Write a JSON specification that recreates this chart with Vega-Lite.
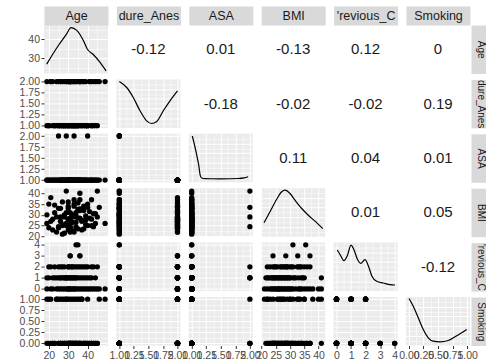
{
"$schema": "https://vega.github.io/schema/vega-lite/v6.json",
"padding": {"left": 19, "top": 9, "right": 0, "bottom": 0},
"columns": 6,
"spacing": {"row": 5.4, "column": 8.4},
"bounds": "flush",
"config": {
 "view": {"fill": "#EBEBEB", "stroke": null},
 "font": "Liberation Sans",
 "axis": {"grid": true, "gridColor": "#FFFFFF", "domain": false, "ticks": false, "labels": false, "labelFont": "Liberation Sans", "labelFontSize": 10.5, "labelColor": "#4D4D4D", "labelPadding": 1.5, "labelOverlap": false, "labelBound": false, "labelFlush": false, "tickColor": "#333333", "tickSize": 3, "tickWidth": 1, "titleFont": "Liberation Sans", "titleFontSize": 12.5, "titleFontWeight": "normal", "titleColor": "#1A1A1A", "titlePadding": 0},
 "point": {"filled": true, "size": 28, "color": "#000000", "opacity": 1, "strokeWidth": 0},
 "line": {"color": "#000000", "strokeWidth": 1.2},
 "text": {"font": "Liberation Sans", "fontSize": 15, "color": "#1A1A1A"}
},
"datasets": {
 "patients": [
  {"Age":19,"Procedure_Anes":1,"ASA":1,"BMI":26,"Previous_C":0,"Smoking":0},
  {"Age":21,"Procedure_Anes":2,"ASA":1,"BMI":38,"Previous_C":0,"Smoking":1},
  {"Age":22,"Procedure_Anes":1,"ASA":1,"BMI":23,"Previous_C":0,"Smoking":0},
  {"Age":24,"Procedure_Anes":2,"ASA":1,"BMI":29,"Previous_C":0,"Smoking":1},
  {"Age":25,"Procedure_Anes":1,"ASA":1,"BMI":33,"Previous_C":0,"Smoking":0},
  {"Age":26,"Procedure_Anes":2,"ASA":1,"BMI":27,"Previous_C":0,"Smoking":0},
  {"Age":27,"Procedure_Anes":1,"ASA":1,"BMI":21,"Previous_C":0,"Smoking":1},
  {"Age":28,"Procedure_Anes":1,"ASA":1,"BMI":30,"Previous_C":0,"Smoking":0},
  {"Age":29,"Procedure_Anes":2,"ASA":1,"BMI":25,"Previous_C":0,"Smoking":0},
  {"Age":30,"Procedure_Anes":1,"ASA":1,"BMI":36,"Previous_C":0,"Smoking":0},
  {"Age":30,"Procedure_Anes":2,"ASA":1,"BMI":28,"Previous_C":0,"Smoking":1},
  {"Age":31,"Procedure_Anes":1,"ASA":1,"BMI":24,"Previous_C":0,"Smoking":0},
  {"Age":31,"Procedure_Anes":2,"ASA":1,"BMI":31,"Previous_C":0,"Smoking":0},
  {"Age":32,"Procedure_Anes":1,"ASA":1,"BMI":26.5,"Previous_C":0,"Smoking":0},
  {"Age":33,"Procedure_Anes":2,"ASA":1,"BMI":22,"Previous_C":0,"Smoking":1},
  {"Age":33,"Procedure_Anes":1,"ASA":1,"BMI":34,"Previous_C":0,"Smoking":0},
  {"Age":34,"Procedure_Anes":1,"ASA":1,"BMI":29.5,"Previous_C":0,"Smoking":0},
  {"Age":35,"Procedure_Anes":2,"ASA":1,"BMI":23.5,"Previous_C":0,"Smoking":0},
  {"Age":36,"Procedure_Anes":1,"ASA":1,"BMI":40,"Previous_C":0,"Smoking":1},
  {"Age":37,"Procedure_Anes":2,"ASA":1,"BMI":27.5,"Previous_C":0,"Smoking":0},
  {"Age":38,"Procedure_Anes":1,"ASA":1,"BMI":32,"Previous_C":0,"Smoking":0},
  {"Age":39,"Procedure_Anes":2,"ASA":1,"BMI":25.5,"Previous_C":0,"Smoking":0},
  {"Age":40,"Procedure_Anes":1,"ASA":1,"BMI":35,"Previous_C":0,"Smoking":1},
  {"Age":41,"Procedure_Anes":2,"ASA":1,"BMI":28.5,"Previous_C":0,"Smoking":0},
  {"Age":42,"Procedure_Anes":1,"ASA":1,"BMI":37,"Previous_C":0,"Smoking":0},
  {"Age":43,"Procedure_Anes":2,"ASA":1,"BMI":24.5,"Previous_C":0,"Smoking":0},
  {"Age":44,"Procedure_Anes":1,"ASA":1,"BMI":30.5,"Previous_C":0,"Smoking":0},
  {"Age":46,"Procedure_Anes":2,"ASA":1,"BMI":33.5,"Previous_C":0,"Smoking":1},
  {"Age":45,"Procedure_Anes":1,"ASA":1,"BMI":41,"Previous_C":0,"Smoking":0},
  {"Age":49,"Procedure_Anes":2,"ASA":1,"BMI":26,"Previous_C":0,"Smoking":1},
  {"Age":19,"Procedure_Anes":2,"ASA":1,"BMI":30,"Previous_C":1,"Smoking":1},
  {"Age":20,"Procedure_Anes":1,"ASA":1,"BMI":24,"Previous_C":1,"Smoking":0},
  {"Age":22,"Procedure_Anes":2,"ASA":1,"BMI":28,"Previous_C":1,"Smoking":0},
  {"Age":23,"Procedure_Anes":1,"ASA":1,"BMI":34.5,"Previous_C":1,"Smoking":0},
  {"Age":24,"Procedure_Anes":1,"ASA":1,"BMI":22,"Previous_C":1,"Smoking":1},
  {"Age":25,"Procedure_Anes":1,"ASA":2,"BMI":24.5,"Previous_C":1,"Smoking":0},
  {"Age":26,"Procedure_Anes":2,"ASA":1,"BMI":27,"Previous_C":1,"Smoking":0},
  {"Age":26,"Procedure_Anes":1,"ASA":1,"BMI":33,"Previous_C":1,"Smoking":1},
  {"Age":27,"Procedure_Anes":1,"ASA":1,"BMI":25,"Previous_C":1,"Smoking":0},
  {"Age":28,"Procedure_Anes":2,"ASA":1,"BMI":29,"Previous_C":1,"Smoking":0},
  {"Age":28,"Procedure_Anes":1,"ASA":1,"BMI":21.5,"Previous_C":1,"Smoking":0},
  {"Age":29,"Procedure_Anes":2,"ASA":1,"BMI":31,"Previous_C":1,"Smoking":1},
  {"Age":29,"Procedure_Anes":1,"ASA":1,"BMI":26,"Previous_C":1,"Smoking":0},
  {"Age":30,"Procedure_Anes":1,"ASA":1,"BMI":23,"Previous_C":1,"Smoking":0},
  {"Age":30,"Procedure_Anes":2,"ASA":1,"BMI":34,"Previous_C":1,"Smoking":0},
  {"Age":31,"Procedure_Anes":1,"ASA":1,"BMI":27.5,"Previous_C":1,"Smoking":1},
  {"Age":31,"Procedure_Anes":2,"ASA":1,"BMI":25.5,"Previous_C":1,"Smoking":0},
  {"Age":32,"Procedure_Anes":1,"ASA":1,"BMI":30,"Previous_C":1,"Smoking":0},
  {"Age":32,"Procedure_Anes":2,"ASA":1,"BMI":22.5,"Previous_C":1,"Smoking":0},
  {"Age":33,"Procedure_Anes":1,"ASA":2,"BMI":29,"Previous_C":1,"Smoking":0},
  {"Age":33,"Procedure_Anes":2,"ASA":1,"BMI":35,"Previous_C":1,"Smoking":0},
  {"Age":34,"Procedure_Anes":1,"ASA":1,"BMI":26.5,"Previous_C":1,"Smoking":1},
  {"Age":34,"Procedure_Anes":2,"ASA":1,"BMI":24,"Previous_C":1,"Smoking":0},
  {"Age":35,"Procedure_Anes":1,"ASA":1,"BMI":28.5,"Previous_C":1,"Smoking":0},
  {"Age":36,"Procedure_Anes":2,"ASA":1,"BMI":32,"Previous_C":1,"Smoking":0},
  {"Age":37,"Procedure_Anes":1,"ASA":1,"BMI":27,"Previous_C":1,"Smoking":1},
  {"Age":38,"Procedure_Anes":2,"ASA":1,"BMI":23.5,"Previous_C":1,"Smoking":0},
  {"Age":39,"Procedure_Anes":1,"ASA":1,"BMI":29.5,"Previous_C":1,"Smoking":0},
  {"Age":40,"Procedure_Anes":1,"ASA":1,"BMI":25,"Previous_C":1,"Smoking":0},
  {"Age":41,"Procedure_Anes":2,"ASA":1,"BMI":31.5,"Previous_C":1,"Smoking":0},
  {"Age":42,"Procedure_Anes":1,"ASA":1,"BMI":28,"Previous_C":1,"Smoking":0},
  {"Age":44,"Procedure_Anes":2,"ASA":1,"BMI":26,"Previous_C":1,"Smoking":0},
  {"Age":20,"Procedure_Anes":1,"ASA":1,"BMI":35,"Previous_C":2,"Smoking":1},
  {"Age":21,"Procedure_Anes":2,"ASA":1,"BMI":27,"Previous_C":2,"Smoking":0},
  {"Age":23,"Procedure_Anes":1,"ASA":1,"BMI":31,"Previous_C":2,"Smoking":0},
  {"Age":25,"Procedure_Anes":2,"ASA":1,"BMI":24,"Previous_C":2,"Smoking":1},
  {"Age":26,"Procedure_Anes":1,"ASA":1,"BMI":29,"Previous_C":2,"Smoking":0},
  {"Age":27,"Procedure_Anes":2,"ASA":1,"BMI":36,"Previous_C":2,"Smoking":0},
  {"Age":28,"Procedure_Anes":1,"ASA":1,"BMI":25.5,"Previous_C":2,"Smoking":1},
  {"Age":29,"Procedure_Anes":1,"ASA":2,"BMI":41,"Previous_C":1,"Smoking":1},
  {"Age":30,"Procedure_Anes":2,"ASA":1,"BMI":28,"Previous_C":2,"Smoking":0},
  {"Age":30,"Procedure_Anes":1,"ASA":1,"BMI":33,"Previous_C":2,"Smoking":0},
  {"Age":31,"Procedure_Anes":2,"ASA":1,"BMI":22,"Previous_C":2,"Smoking":0},
  {"Age":32,"Procedure_Anes":1,"ASA":1,"BMI":30,"Previous_C":2,"Smoking":1},
  {"Age":32,"Procedure_Anes":2,"ASA":1,"BMI":26.5,"Previous_C":2,"Smoking":0},
  {"Age":33,"Procedure_Anes":1,"ASA":1,"BMI":37,"Previous_C":2,"Smoking":0},
  {"Age":34,"Procedure_Anes":2,"ASA":1,"BMI":24.5,"Previous_C":2,"Smoking":0},
  {"Age":35,"Procedure_Anes":1,"ASA":1,"BMI":32.5,"Previous_C":2,"Smoking":1},
  {"Age":36,"Procedure_Anes":2,"ASA":1,"BMI":28.5,"Previous_C":2,"Smoking":0},
  {"Age":37,"Procedure_Anes":1,"ASA":1,"BMI":23,"Previous_C":2,"Smoking":1},
  {"Age":38,"Procedure_Anes":2,"ASA":1,"BMI":34,"Previous_C":2,"Smoking":0},
  {"Age":39,"Procedure_Anes":1,"ASA":1,"BMI":27.5,"Previous_C":2,"Smoking":0},
  {"Age":40,"Procedure_Anes":1,"ASA":2,"BMI":33.5,"Previous_C":2,"Smoking":0},
  {"Age":42,"Procedure_Anes":2,"ASA":1,"BMI":25,"Previous_C":2,"Smoking":0},
  {"Age":43,"Procedure_Anes":1,"ASA":1,"BMI":30.5,"Previous_C":2,"Smoking":0},
  {"Age":45,"Procedure_Anes":2,"ASA":1,"BMI":29,"Previous_C":2,"Smoking":0},
  {"Age":31,"Procedure_Anes":2,"ASA":1,"BMI":24,"Previous_C":3,"Smoking":0},
  {"Age":31,"Procedure_Anes":2,"ASA":1,"BMI":28.5,"Previous_C":3,"Smoking":0},
  {"Age":36,"Procedure_Anes":2,"ASA":1,"BMI":32.7,"Previous_C":3,"Smoking":0},
  {"Age":36,"Procedure_Anes":2,"ASA":1,"BMI":37,"Previous_C":3,"Smoking":0},
  {"Age":34,"Procedure_Anes":1,"ASA":1,"BMI":31,"Previous_C":4,"Smoking":0},
  {"Age":35,"Procedure_Anes":1,"ASA":1,"BMI":35.5,"Previous_C":4,"Smoking":0}
 ],
 "dens": [
  {"var":"Age","x":18.9,"y":27.0},{"var":"Age","x":24.9,"y":36.7},{"var":"Age","x":29.2,"y":42.8},{"var":"Age","x":31.4,"y":46.0},{"var":"Age","x":34.4,"y":44.6},{"var":"Age","x":37.8,"y":39.3},{"var":"Age","x":39.8,"y":34.9},{"var":"Age","x":42.9,"y":32.0},{"var":"Age","x":46.4,"y":27.9},{"var":"Age","x":49.5,"y":23.5},
  {"var":"Procedure_Anes","x":1.0,"y":0.957},{"var":"Procedure_Anes","x":1.127,"y":0.833},{"var":"Procedure_Anes","x":1.24,"y":0.627},{"var":"Procedure_Anes","x":1.356,"y":0.353},{"var":"Procedure_Anes","x":1.47,"y":0.146},{"var":"Procedure_Anes","x":1.557,"y":0.091},{"var":"Procedure_Anes","x":1.643,"y":0.132},{"var":"Procedure_Anes","x":1.756,"y":0.353},{"var":"Procedure_Anes","x":1.871,"y":0.559},{"var":"Procedure_Anes","x":2.0,"y":0.765},
  {"var":"ASA","x":1.01,"y":0.955},{"var":"ASA","x":1.05,"y":0.76},{"var":"ASA","x":1.09,"y":0.54},{"var":"ASA","x":1.12,"y":0.36},{"var":"ASA","x":1.145,"y":0.15},{"var":"ASA","x":1.17,"y":0.09},{"var":"ASA","x":1.23,"y":0.074},{"var":"ASA","x":1.5,"y":0.072},{"var":"ASA","x":1.8,"y":0.078},{"var":"ASA","x":1.9,"y":0.09},{"var":"ASA","x":1.97,"y":0.115},
  {"var":"BMI","x":20.83,"y":0.287},{"var":"BMI","x":22.94,"y":0.513},{"var":"BMI","x":25.3,"y":0.773},{"var":"BMI","x":27.06,"y":0.926},{"var":"BMI","x":28.22,"y":0.959},{"var":"BMI","x":29.97,"y":0.891},{"var":"BMI","x":31.73,"y":0.753},{"var":"BMI","x":34.09,"y":0.581},{"var":"BMI","x":36.41,"y":0.443},{"var":"BMI","x":38.76,"y":0.32},{"var":"BMI","x":41.47,"y":0.169},
  {"var":"Previous_C","x":0.054,"y":0.847},{"var":"Previous_C","x":0.288,"y":0.73},{"var":"Previous_C","x":0.515,"y":0.627},{"var":"Previous_C","x":0.742,"y":0.73},{"var":"Previous_C","x":0.996,"y":0.95},{"var":"Previous_C","x":1.2,"y":0.854},{"var":"Previous_C","x":1.43,"y":0.662},{"var":"Previous_C","x":1.663,"y":0.573},{"var":"Previous_C","x":1.959,"y":0.647},{"var":"Previous_C","x":2.186,"y":0.524},{"var":"Previous_C","x":2.42,"y":0.318},{"var":"Previous_C","x":2.763,"y":0.202},{"var":"Previous_C","x":3.217,"y":0.167},{"var":"Previous_C","x":3.678,"y":0.132},{"var":"Previous_C","x":4.02,"y":0.126},
  {"var":"Smoking","x":0.002,"y":0.969},{"var":"Smoking","x":0.075,"y":0.81},{"var":"Smoking","x":0.161,"y":0.571},{"var":"Smoking","x":0.247,"y":0.33},{"var":"Smoking","x":0.333,"y":0.159},{"var":"Smoking","x":0.419,"y":0.089},{"var":"Smoking","x":0.534,"y":0.076},{"var":"Smoking","x":0.677,"y":0.103},{"var":"Smoking","x":0.792,"y":0.179},{"var":"Smoking","x":0.907,"y":0.262},{"var":"Smoking","x":0.993,"y":0.33}
 ],
 "cors": [
  {"row":"Age","col":"Procedure_Anes","r":"-0.12"},
  {"row":"Age","col":"ASA","r":"0.01"},
  {"row":"Age","col":"BMI","r":"-0.13"},
  {"row":"Age","col":"Previous_C","r":"0.12"},
  {"row":"Age","col":"Smoking","r":"0"},
  {"row":"Procedure_Anes","col":"ASA","r":"-0.18"},
  {"row":"Procedure_Anes","col":"BMI","r":"-0.02"},
  {"row":"Procedure_Anes","col":"Previous_C","r":"-0.02"},
  {"row":"Procedure_Anes","col":"Smoking","r":"0.19"},
  {"row":"ASA","col":"BMI","r":"0.11"},
  {"row":"ASA","col":"Previous_C","r":"0.04"},
  {"row":"ASA","col":"Smoking","r":"0.01"},
  {"row":"BMI","col":"Previous_C","r":"0.01"},
  {"row":"BMI","col":"Smoking","r":"0.05"},
  {"row":"Previous_C","col":"Smoking","r":"-0.12"}
 ]
},
"concat": [
 {"width":64,"height":48.5,"data":{"name":"dens"},"transform":[{"filter":"datum.var === 'Age'"}],"mark":{"type":"line","interpolate":"monotone"},
  "encoding":{
   "x":{"field":"x","type":"quantitative","scale":{"domain":[17.5,50.5],"nice":false,"zero":false},"axis":{"orient":"top","title":"Age","titleY":0,"titleBaseline":"middle","domain":true,"domainColor":"#D9D9D9","domainWidth":19,"offset":9.5,"values":[20,25,30,35,40,45],"gridWidth":{"condition":{"test":"datum.value % 10 === 0","value":1},"value":0.5}}},
   "y":{"field":"y","type":"quantitative","scale":{"domain":[22.1,47.4],"nice":false,"zero":false},"axis":{"title":null,"values":[25,30,35,40,45],"labels":true,"ticks":true,"format":"d","labelExpr":"datum.value % 10 === 0 ? datum.label : ''","tickOpacity":{"condition":{"test":"datum.value % 10 === 0","value":1},"value":0},"gridWidth":{"condition":{"test":"datum.value % 10 === 0","value":1},"value":0.5}}}}},
 {"width":64,"height":48.5,"layer":[
  {"data":{"name":"patients"},"mark":{"type":"point","opacity":0},"encoding":{
   "x":{"field":"Procedure_Anes","type":"quantitative","scale":{"domain":[0.95,2.05],"nice":false,"zero":false},"axis":{"orient":"top","title":"dure_Anes","titleY":0,"titleBaseline":"middle","domain":true,"domainColor":"#D9D9D9","domainWidth":19,"offset":9.5,"values":[1,1.125,1.25,1.375,1.5,1.625,1.75,1.875,2],"gridWidth":{"condition":{"test":"abs(datum.value*4-round(datum.value*4))<0.001","value":1},"value":0.5}}},
   "y":{"field":"Age","type":"quantitative","scale":{"domain":[17.5,50.5],"nice":false,"zero":false},"axis":{"title":null,"values":[20,25,30,35,40,45],"gridWidth":{"condition":{"test":"datum.value % 10 === 0","value":1},"value":0.5}}}}},
  {"data":{"name":"cors"},"transform":[{"filter":"datum.row === 'Age' && datum.col === 'Procedure_Anes'"}],"mark":{"type":"text"},"encoding":{"text":{"field":"r","type":"nominal"}}}]},
 {"width":64,"height":48.5,"layer":[
  {"data":{"name":"patients"},"mark":{"type":"point","opacity":0},"encoding":{
   "x":{"field":"ASA","type":"quantitative","scale":{"domain":[0.95,2.05],"nice":false,"zero":false},"axis":{"orient":"top","title":"ASA","titleY":0,"titleBaseline":"middle","domain":true,"domainColor":"#D9D9D9","domainWidth":19,"offset":9.5,"values":[1,1.125,1.25,1.375,1.5,1.625,1.75,1.875,2],"gridWidth":{"condition":{"test":"abs(datum.value*4-round(datum.value*4))<0.001","value":1},"value":0.5}}},
   "y":{"field":"Age","type":"quantitative","scale":{"domain":[17.5,50.5],"nice":false,"zero":false},"axis":{"title":null,"values":[20,25,30,35,40,45],"gridWidth":{"condition":{"test":"datum.value % 10 === 0","value":1},"value":0.5}}}}},
  {"data":{"name":"cors"},"transform":[{"filter":"datum.row === 'Age' && datum.col === 'ASA'"}],"mark":{"type":"text"},"encoding":{"text":{"field":"r","type":"nominal"}}}]},
 {"width":64,"height":48.5,"layer":[
  {"data":{"name":"patients"},"mark":{"type":"point","opacity":0},"encoding":{
   "x":{"field":"BMI","type":"quantitative","scale":{"domain":[19.85,42.35],"nice":false,"zero":false},"axis":{"orient":"top","title":"BMI","titleY":0,"titleBaseline":"middle","domain":true,"domainColor":"#D9D9D9","domainWidth":19,"offset":9.5,"values":[20,22.5,25,27.5,30,32.5,35,37.5,40],"gridWidth":{"condition":{"test":"datum.value % 5 === 0","value":1},"value":0.5}}},
   "y":{"field":"Age","type":"quantitative","scale":{"domain":[17.5,50.5],"nice":false,"zero":false},"axis":{"title":null,"values":[20,25,30,35,40,45],"gridWidth":{"condition":{"test":"datum.value % 10 === 0","value":1},"value":0.5}}}}},
  {"data":{"name":"cors"},"transform":[{"filter":"datum.row === 'Age' && datum.col === 'BMI'"}],"mark":{"type":"text"},"encoding":{"text":{"field":"r","type":"nominal"}}}]},
 {"width":64,"height":48.5,"layer":[
  {"data":{"name":"patients"},"mark":{"type":"point","opacity":0},"encoding":{
   "x":{"field":"Previous_C","type":"quantitative","scale":{"domain":[-0.2,4.2],"nice":false,"zero":false},"axis":{"orient":"top","title":"'revious_C","titleY":0,"titleBaseline":"middle","domain":true,"domainColor":"#D9D9D9","domainWidth":19,"offset":9.5,"values":[0,0.5,1,1.5,2,2.5,3,3.5,4],"gridWidth":{"condition":{"test":"datum.value % 1 === 0","value":1},"value":0.5}}},
   "y":{"field":"Age","type":"quantitative","scale":{"domain":[17.5,50.5],"nice":false,"zero":false},"axis":{"title":null,"values":[20,25,30,35,40,45],"gridWidth":{"condition":{"test":"datum.value % 10 === 0","value":1},"value":0.5}}}}},
  {"data":{"name":"cors"},"transform":[{"filter":"datum.row === 'Age' && datum.col === 'Previous_C'"}],"mark":{"type":"text"},"encoding":{"text":{"field":"r","type":"nominal"}}}]},
 {"width":64,"height":48.5,"layer":[
  {"data":{"name":"patients"},"mark":{"type":"point","opacity":0},"encoding":{
   "x":{"field":"Smoking","type":"quantitative","scale":{"domain":[-0.05,1.05],"nice":false,"zero":false},"axis":{"orient":"top","title":"Smoking","titleY":0,"titleBaseline":"middle","domain":true,"domainColor":"#D9D9D9","domainWidth":19,"offset":9.5,"values":[0,0.125,0.25,0.375,0.5,0.625,0.75,0.875,1],"gridWidth":{"condition":{"test":"abs(datum.value*4-round(datum.value*4))<0.001","value":1},"value":0.5}}},
   "y":{"field":"Age","type":"quantitative","scale":{"domain":[17.5,50.5],"nice":false,"zero":false},"axis":{"orient":"right","title":"Age","titleFontSize":10,"titleX":0,"titleAngle":90,"titleAlign":"center","titleBaseline":"middle","domain":true,"domainColor":"#D9D9D9","domainWidth":19,"offset":10.5,"values":[20,25,30,35,40,45],"gridWidth":{"condition":{"test":"datum.value % 10 === 0","value":1},"value":0.5}}}}},
  {"data":{"name":"cors"},"transform":[{"filter":"datum.row === 'Age' && datum.col === 'Smoking'"}],"mark":{"type":"text"},"encoding":{"text":{"field":"r","type":"nominal"}}}]},

 {"width":64,"height":48.5,"data":{"name":"patients"},"mark":"point","encoding":{
   "x":{"field":"Age","type":"quantitative","scale":{"domain":[17.5,50.5],"nice":false,"zero":false},"axis":{"title":null,"values":[20,25,30,35,40,45],"gridWidth":{"condition":{"test":"datum.value % 10 === 0","value":1},"value":0.5}}},
   "y":{"field":"Procedure_Anes","type":"quantitative","scale":{"domain":[0.95,2.05],"nice":false,"zero":false},"axis":{"title":null,"values":[1,1.125,1.25,1.375,1.5,1.625,1.75,1.875,2],"labels":true,"ticks":true,"format":".2f","labelExpr":"abs(datum.value*4-round(datum.value*4))<0.001 ? datum.label : ''","tickOpacity":{"condition":{"test":"abs(datum.value*4-round(datum.value*4))<0.001","value":1},"value":0},"gridWidth":{"condition":{"test":"abs(datum.value*4-round(datum.value*4))<0.001","value":1},"value":0.5}}}}},
 {"width":64,"height":48.5,"data":{"name":"dens"},"transform":[{"filter":"datum.var === 'Procedure_Anes'"}],"mark":{"type":"line","interpolate":"monotone"},"encoding":{
   "x":{"field":"x","type":"quantitative","scale":{"domain":[0.95,2.05],"nice":false,"zero":false},"axis":{"title":null,"values":[1,1.125,1.25,1.375,1.5,1.625,1.75,1.875,2],"gridWidth":{"condition":{"test":"abs(datum.value*4-round(datum.value*4))<0.001","value":1},"value":0.5}}},
   "y":{"field":"y","type":"quantitative","scale":{"domain":[0,1],"nice":false,"zero":false},"axis":{"title":null,"values":[0.1,0.2,0.3,0.4,0.5,0.6,0.7,0.8,0.9],"gridWidth":{"condition":{"test":"round(datum.value*10) % 2 === 0","value":1},"value":0.5}}}}},
 {"width":64,"height":48.5,"layer":[
  {"data":{"name":"patients"},"mark":{"type":"point","opacity":0},"encoding":{
   "x":{"field":"ASA","type":"quantitative","scale":{"domain":[0.95,2.05],"nice":false,"zero":false},"axis":{"title":null,"values":[1,1.125,1.25,1.375,1.5,1.625,1.75,1.875,2],"gridWidth":{"condition":{"test":"abs(datum.value*4-round(datum.value*4))<0.001","value":1},"value":0.5}}},
   "y":{"field":"Procedure_Anes","type":"quantitative","scale":{"domain":[0.95,2.05],"nice":false,"zero":false},"axis":{"title":null,"values":[1,1.125,1.25,1.375,1.5,1.625,1.75,1.875,2],"gridWidth":{"condition":{"test":"abs(datum.value*4-round(datum.value*4))<0.001","value":1},"value":0.5}}}}},
  {"data":{"name":"cors"},"transform":[{"filter":"datum.row === 'Procedure_Anes' && datum.col === 'ASA'"}],"mark":{"type":"text"},"encoding":{"text":{"field":"r","type":"nominal"}}}]},
 {"width":64,"height":48.5,"layer":[
  {"data":{"name":"patients"},"mark":{"type":"point","opacity":0},"encoding":{
   "x":{"field":"BMI","type":"quantitative","scale":{"domain":[19.85,42.35],"nice":false,"zero":false},"axis":{"title":null,"values":[20,22.5,25,27.5,30,32.5,35,37.5,40],"gridWidth":{"condition":{"test":"datum.value % 5 === 0","value":1},"value":0.5}}},
   "y":{"field":"Procedure_Anes","type":"quantitative","scale":{"domain":[0.95,2.05],"nice":false,"zero":false},"axis":{"title":null,"values":[1,1.125,1.25,1.375,1.5,1.625,1.75,1.875,2],"gridWidth":{"condition":{"test":"abs(datum.value*4-round(datum.value*4))<0.001","value":1},"value":0.5}}}}},
  {"data":{"name":"cors"},"transform":[{"filter":"datum.row === 'Procedure_Anes' && datum.col === 'BMI'"}],"mark":{"type":"text"},"encoding":{"text":{"field":"r","type":"nominal"}}}]},
 {"width":64,"height":48.5,"layer":[
  {"data":{"name":"patients"},"mark":{"type":"point","opacity":0},"encoding":{
   "x":{"field":"Previous_C","type":"quantitative","scale":{"domain":[-0.2,4.2],"nice":false,"zero":false},"axis":{"title":null,"values":[0,0.5,1,1.5,2,2.5,3,3.5,4],"gridWidth":{"condition":{"test":"datum.value % 1 === 0","value":1},"value":0.5}}},
   "y":{"field":"Procedure_Anes","type":"quantitative","scale":{"domain":[0.95,2.05],"nice":false,"zero":false},"axis":{"title":null,"values":[1,1.125,1.25,1.375,1.5,1.625,1.75,1.875,2],"gridWidth":{"condition":{"test":"abs(datum.value*4-round(datum.value*4))<0.001","value":1},"value":0.5}}}}},
  {"data":{"name":"cors"},"transform":[{"filter":"datum.row === 'Procedure_Anes' && datum.col === 'Previous_C'"}],"mark":{"type":"text"},"encoding":{"text":{"field":"r","type":"nominal"}}}]},
 {"width":64,"height":48.5,"layer":[
  {"data":{"name":"patients"},"mark":{"type":"point","opacity":0},"encoding":{
   "x":{"field":"Smoking","type":"quantitative","scale":{"domain":[-0.05,1.05],"nice":false,"zero":false},"axis":{"title":null,"values":[0,0.125,0.25,0.375,0.5,0.625,0.75,0.875,1],"gridWidth":{"condition":{"test":"abs(datum.value*4-round(datum.value*4))<0.001","value":1},"value":0.5}}},
   "y":{"field":"Procedure_Anes","type":"quantitative","scale":{"domain":[0.95,2.05],"nice":false,"zero":false},"axis":{"orient":"right","title":"dure_Anes","titleFontSize":10,"titleX":0,"titleAngle":90,"titleAlign":"center","titleBaseline":"middle","domain":true,"domainColor":"#D9D9D9","domainWidth":19,"offset":10.5,"values":[1,1.125,1.25,1.375,1.5,1.625,1.75,1.875,2],"gridWidth":{"condition":{"test":"abs(datum.value*4-round(datum.value*4))<0.001","value":1},"value":0.5}}}}},
  {"data":{"name":"cors"},"transform":[{"filter":"datum.row === 'Procedure_Anes' && datum.col === 'Smoking'"}],"mark":{"type":"text"},"encoding":{"text":{"field":"r","type":"nominal"}}}]},

 {"width":64,"height":48.5,"data":{"name":"patients"},"mark":"point","encoding":{
   "x":{"field":"Age","type":"quantitative","scale":{"domain":[17.5,50.5],"nice":false,"zero":false},"axis":{"title":null,"values":[20,25,30,35,40,45],"gridWidth":{"condition":{"test":"datum.value % 10 === 0","value":1},"value":0.5}}},
   "y":{"field":"ASA","type":"quantitative","scale":{"domain":[0.95,2.05],"nice":false,"zero":false},"axis":{"title":null,"values":[1,1.125,1.25,1.375,1.5,1.625,1.75,1.875,2],"labels":true,"ticks":true,"format":".2f","labelExpr":"abs(datum.value*4-round(datum.value*4))<0.001 ? datum.label : ''","tickOpacity":{"condition":{"test":"abs(datum.value*4-round(datum.value*4))<0.001","value":1},"value":0},"gridWidth":{"condition":{"test":"abs(datum.value*4-round(datum.value*4))<0.001","value":1},"value":0.5}}}}},
 {"width":64,"height":48.5,"data":{"name":"patients"},"mark":"point","encoding":{
   "x":{"field":"Procedure_Anes","type":"quantitative","scale":{"domain":[0.95,2.05],"nice":false,"zero":false},"axis":{"title":null,"values":[1,1.125,1.25,1.375,1.5,1.625,1.75,1.875,2],"gridWidth":{"condition":{"test":"abs(datum.value*4-round(datum.value*4))<0.001","value":1},"value":0.5}}},
   "y":{"field":"ASA","type":"quantitative","scale":{"domain":[0.95,2.05],"nice":false,"zero":false},"axis":{"title":null,"values":[1,1.125,1.25,1.375,1.5,1.625,1.75,1.875,2],"gridWidth":{"condition":{"test":"abs(datum.value*4-round(datum.value*4))<0.001","value":1},"value":0.5}}}}},
 {"width":64,"height":48.5,"data":{"name":"dens"},"transform":[{"filter":"datum.var === 'ASA'"}],"mark":{"type":"line","interpolate":"monotone"},"encoding":{
   "x":{"field":"x","type":"quantitative","scale":{"domain":[0.95,2.05],"nice":false,"zero":false},"axis":{"title":null,"values":[1,1.125,1.25,1.375,1.5,1.625,1.75,1.875,2],"gridWidth":{"condition":{"test":"abs(datum.value*4-round(datum.value*4))<0.001","value":1},"value":0.5}}},
   "y":{"field":"y","type":"quantitative","scale":{"domain":[0,1],"nice":false,"zero":false},"axis":{"title":null,"values":[0.1,0.2,0.3,0.4,0.5,0.6,0.7,0.8,0.9],"gridWidth":{"condition":{"test":"round(datum.value*10) % 2 === 0","value":1},"value":0.5}}}}},
 {"width":64,"height":48.5,"layer":[
  {"data":{"name":"patients"},"mark":{"type":"point","opacity":0},"encoding":{
   "x":{"field":"BMI","type":"quantitative","scale":{"domain":[19.85,42.35],"nice":false,"zero":false},"axis":{"title":null,"values":[20,22.5,25,27.5,30,32.5,35,37.5,40],"gridWidth":{"condition":{"test":"datum.value % 5 === 0","value":1},"value":0.5}}},
   "y":{"field":"ASA","type":"quantitative","scale":{"domain":[0.95,2.05],"nice":false,"zero":false},"axis":{"title":null,"values":[1,1.125,1.25,1.375,1.5,1.625,1.75,1.875,2],"gridWidth":{"condition":{"test":"abs(datum.value*4-round(datum.value*4))<0.001","value":1},"value":0.5}}}}},
  {"data":{"name":"cors"},"transform":[{"filter":"datum.row === 'ASA' && datum.col === 'BMI'"}],"mark":{"type":"text"},"encoding":{"text":{"field":"r","type":"nominal"}}}]},
 {"width":64,"height":48.5,"layer":[
  {"data":{"name":"patients"},"mark":{"type":"point","opacity":0},"encoding":{
   "x":{"field":"Previous_C","type":"quantitative","scale":{"domain":[-0.2,4.2],"nice":false,"zero":false},"axis":{"title":null,"values":[0,0.5,1,1.5,2,2.5,3,3.5,4],"gridWidth":{"condition":{"test":"datum.value % 1 === 0","value":1},"value":0.5}}},
   "y":{"field":"ASA","type":"quantitative","scale":{"domain":[0.95,2.05],"nice":false,"zero":false},"axis":{"title":null,"values":[1,1.125,1.25,1.375,1.5,1.625,1.75,1.875,2],"gridWidth":{"condition":{"test":"abs(datum.value*4-round(datum.value*4))<0.001","value":1},"value":0.5}}}}},
  {"data":{"name":"cors"},"transform":[{"filter":"datum.row === 'ASA' && datum.col === 'Previous_C'"}],"mark":{"type":"text"},"encoding":{"text":{"field":"r","type":"nominal"}}}]},
 {"width":64,"height":48.5,"layer":[
  {"data":{"name":"patients"},"mark":{"type":"point","opacity":0},"encoding":{
   "x":{"field":"Smoking","type":"quantitative","scale":{"domain":[-0.05,1.05],"nice":false,"zero":false},"axis":{"title":null,"values":[0,0.125,0.25,0.375,0.5,0.625,0.75,0.875,1],"gridWidth":{"condition":{"test":"abs(datum.value*4-round(datum.value*4))<0.001","value":1},"value":0.5}}},
   "y":{"field":"ASA","type":"quantitative","scale":{"domain":[0.95,2.05],"nice":false,"zero":false},"axis":{"orient":"right","title":"ASA","titleFontSize":10,"titleX":0,"titleAngle":90,"titleAlign":"center","titleBaseline":"middle","domain":true,"domainColor":"#D9D9D9","domainWidth":19,"offset":10.5,"values":[1,1.125,1.25,1.375,1.5,1.625,1.75,1.875,2],"gridWidth":{"condition":{"test":"abs(datum.value*4-round(datum.value*4))<0.001","value":1},"value":0.5}}}}},
  {"data":{"name":"cors"},"transform":[{"filter":"datum.row === 'ASA' && datum.col === 'Smoking'"}],"mark":{"type":"text"},"encoding":{"text":{"field":"r","type":"nominal"}}}]},

 {"width":64,"height":48.5,"data":{"name":"patients"},"mark":"point","encoding":{
   "x":{"field":"Age","type":"quantitative","scale":{"domain":[17.5,50.5],"nice":false,"zero":false},"axis":{"title":null,"values":[20,25,30,35,40,45],"gridWidth":{"condition":{"test":"datum.value % 10 === 0","value":1},"value":0.5}}},
   "y":{"field":"BMI","type":"quantitative","scale":{"domain":[19.85,42.35],"nice":false,"zero":false},"axis":{"title":null,"values":[20,22.5,25,27.5,30,32.5,35,37.5,40],"labels":true,"ticks":true,"format":"d","labelExpr":"datum.value % 5 === 0 ? datum.label : ''","tickOpacity":{"condition":{"test":"datum.value % 5 === 0","value":1},"value":0},"gridWidth":{"condition":{"test":"datum.value % 5 === 0","value":1},"value":0.5}}}}},
 {"width":64,"height":48.5,"data":{"name":"patients"},"mark":"point","encoding":{
   "x":{"field":"Procedure_Anes","type":"quantitative","scale":{"domain":[0.95,2.05],"nice":false,"zero":false},"axis":{"title":null,"values":[1,1.125,1.25,1.375,1.5,1.625,1.75,1.875,2],"gridWidth":{"condition":{"test":"abs(datum.value*4-round(datum.value*4))<0.001","value":1},"value":0.5}}},
   "y":{"field":"BMI","type":"quantitative","scale":{"domain":[19.85,42.35],"nice":false,"zero":false},"axis":{"title":null,"values":[20,22.5,25,27.5,30,32.5,35,37.5,40],"gridWidth":{"condition":{"test":"datum.value % 5 === 0","value":1},"value":0.5}}}}},
 {"width":64,"height":48.5,"data":{"name":"patients"},"mark":"point","encoding":{
   "x":{"field":"ASA","type":"quantitative","scale":{"domain":[0.95,2.05],"nice":false,"zero":false},"axis":{"title":null,"values":[1,1.125,1.25,1.375,1.5,1.625,1.75,1.875,2],"gridWidth":{"condition":{"test":"abs(datum.value*4-round(datum.value*4))<0.001","value":1},"value":0.5}}},
   "y":{"field":"BMI","type":"quantitative","scale":{"domain":[19.85,42.35],"nice":false,"zero":false},"axis":{"title":null,"values":[20,22.5,25,27.5,30,32.5,35,37.5,40],"gridWidth":{"condition":{"test":"datum.value % 5 === 0","value":1},"value":0.5}}}}},
 {"width":64,"height":48.5,"data":{"name":"dens"},"transform":[{"filter":"datum.var === 'BMI'"}],"mark":{"type":"line","interpolate":"monotone"},"encoding":{
   "x":{"field":"x","type":"quantitative","scale":{"domain":[19.85,42.35],"nice":false,"zero":false},"axis":{"title":null,"values":[20,22.5,25,27.5,30,32.5,35,37.5,40],"gridWidth":{"condition":{"test":"datum.value % 5 === 0","value":1},"value":0.5}}},
   "y":{"field":"y","type":"quantitative","scale":{"domain":[0,1],"nice":false,"zero":false},"axis":{"title":null,"values":[0.1,0.2,0.3,0.4,0.5,0.6,0.7,0.8,0.9],"gridWidth":{"condition":{"test":"round(datum.value*10) % 2 === 0","value":1},"value":0.5}}}}},
 {"width":64,"height":48.5,"layer":[
  {"data":{"name":"patients"},"mark":{"type":"point","opacity":0},"encoding":{
   "x":{"field":"Previous_C","type":"quantitative","scale":{"domain":[-0.2,4.2],"nice":false,"zero":false},"axis":{"title":null,"values":[0,0.5,1,1.5,2,2.5,3,3.5,4],"gridWidth":{"condition":{"test":"datum.value % 1 === 0","value":1},"value":0.5}}},
   "y":{"field":"BMI","type":"quantitative","scale":{"domain":[19.85,42.35],"nice":false,"zero":false},"axis":{"title":null,"values":[20,22.5,25,27.5,30,32.5,35,37.5,40],"gridWidth":{"condition":{"test":"datum.value % 5 === 0","value":1},"value":0.5}}}}},
  {"data":{"name":"cors"},"transform":[{"filter":"datum.row === 'BMI' && datum.col === 'Previous_C'"}],"mark":{"type":"text"},"encoding":{"text":{"field":"r","type":"nominal"}}}]},
 {"width":64,"height":48.5,"layer":[
  {"data":{"name":"patients"},"mark":{"type":"point","opacity":0},"encoding":{
   "x":{"field":"Smoking","type":"quantitative","scale":{"domain":[-0.05,1.05],"nice":false,"zero":false},"axis":{"title":null,"values":[0,0.125,0.25,0.375,0.5,0.625,0.75,0.875,1],"gridWidth":{"condition":{"test":"abs(datum.value*4-round(datum.value*4))<0.001","value":1},"value":0.5}}},
   "y":{"field":"BMI","type":"quantitative","scale":{"domain":[19.85,42.35],"nice":false,"zero":false},"axis":{"orient":"right","title":"BMI","titleFontSize":10,"titleX":0,"titleAngle":90,"titleAlign":"center","titleBaseline":"middle","domain":true,"domainColor":"#D9D9D9","domainWidth":19,"offset":10.5,"values":[20,22.5,25,27.5,30,32.5,35,37.5,40],"gridWidth":{"condition":{"test":"datum.value % 5 === 0","value":1},"value":0.5}}}}},
  {"data":{"name":"cors"},"transform":[{"filter":"datum.row === 'BMI' && datum.col === 'Smoking'"}],"mark":{"type":"text"},"encoding":{"text":{"field":"r","type":"nominal"}}}]},

 {"width":64,"height":48.5,"data":{"name":"patients"},"mark":"point","encoding":{
   "x":{"field":"Age","type":"quantitative","scale":{"domain":[17.5,50.5],"nice":false,"zero":false},"axis":{"title":null,"values":[20,25,30,35,40,45],"gridWidth":{"condition":{"test":"datum.value % 10 === 0","value":1},"value":0.5}}},
   "y":{"field":"Previous_C","type":"quantitative","scale":{"domain":[-0.2,4.2],"nice":false,"zero":false},"axis":{"title":null,"values":[0,0.5,1,1.5,2,2.5,3,3.5,4],"labels":true,"ticks":true,"format":"d","labelExpr":"datum.value % 1 === 0 ? datum.label : ''","tickOpacity":{"condition":{"test":"datum.value % 1 === 0","value":1},"value":0},"gridWidth":{"condition":{"test":"datum.value % 1 === 0","value":1},"value":0.5}}}}},
 {"width":64,"height":48.5,"data":{"name":"patients"},"mark":"point","encoding":{
   "x":{"field":"Procedure_Anes","type":"quantitative","scale":{"domain":[0.95,2.05],"nice":false,"zero":false},"axis":{"title":null,"values":[1,1.125,1.25,1.375,1.5,1.625,1.75,1.875,2],"gridWidth":{"condition":{"test":"abs(datum.value*4-round(datum.value*4))<0.001","value":1},"value":0.5}}},
   "y":{"field":"Previous_C","type":"quantitative","scale":{"domain":[-0.2,4.2],"nice":false,"zero":false},"axis":{"title":null,"values":[0,0.5,1,1.5,2,2.5,3,3.5,4],"gridWidth":{"condition":{"test":"datum.value % 1 === 0","value":1},"value":0.5}}}}},
 {"width":64,"height":48.5,"data":{"name":"patients"},"mark":"point","encoding":{
   "x":{"field":"ASA","type":"quantitative","scale":{"domain":[0.95,2.05],"nice":false,"zero":false},"axis":{"title":null,"values":[1,1.125,1.25,1.375,1.5,1.625,1.75,1.875,2],"gridWidth":{"condition":{"test":"abs(datum.value*4-round(datum.value*4))<0.001","value":1},"value":0.5}}},
   "y":{"field":"Previous_C","type":"quantitative","scale":{"domain":[-0.2,4.2],"nice":false,"zero":false},"axis":{"title":null,"values":[0,0.5,1,1.5,2,2.5,3,3.5,4],"gridWidth":{"condition":{"test":"datum.value % 1 === 0","value":1},"value":0.5}}}}},
 {"width":64,"height":48.5,"data":{"name":"patients"},"mark":"point","encoding":{
   "x":{"field":"BMI","type":"quantitative","scale":{"domain":[19.85,42.35],"nice":false,"zero":false},"axis":{"title":null,"values":[20,22.5,25,27.5,30,32.5,35,37.5,40],"gridWidth":{"condition":{"test":"datum.value % 5 === 0","value":1},"value":0.5}}},
   "y":{"field":"Previous_C","type":"quantitative","scale":{"domain":[-0.2,4.2],"nice":false,"zero":false},"axis":{"title":null,"values":[0,0.5,1,1.5,2,2.5,3,3.5,4],"gridWidth":{"condition":{"test":"datum.value % 1 === 0","value":1},"value":0.5}}}}},
 {"width":64,"height":48.5,"data":{"name":"dens"},"transform":[{"filter":"datum.var === 'Previous_C'"}],"mark":{"type":"line","interpolate":"monotone"},"encoding":{
   "x":{"field":"x","type":"quantitative","scale":{"domain":[-0.2,4.2],"nice":false,"zero":false},"axis":{"title":null,"values":[0,0.5,1,1.5,2,2.5,3,3.5,4],"gridWidth":{"condition":{"test":"datum.value % 1 === 0","value":1},"value":0.5}}},
   "y":{"field":"y","type":"quantitative","scale":{"domain":[0,1],"nice":false,"zero":false},"axis":{"title":null,"values":[0.1,0.2,0.3,0.4,0.5,0.6,0.7,0.8,0.9],"gridWidth":{"condition":{"test":"round(datum.value*10) % 2 === 0","value":1},"value":0.5}}}}},
 {"width":64,"height":48.5,"layer":[
  {"data":{"name":"patients"},"mark":{"type":"point","opacity":0},"encoding":{
   "x":{"field":"Smoking","type":"quantitative","scale":{"domain":[-0.05,1.05],"nice":false,"zero":false},"axis":{"title":null,"values":[0,0.125,0.25,0.375,0.5,0.625,0.75,0.875,1],"gridWidth":{"condition":{"test":"abs(datum.value*4-round(datum.value*4))<0.001","value":1},"value":0.5}}},
   "y":{"field":"Previous_C","type":"quantitative","scale":{"domain":[-0.2,4.2],"nice":false,"zero":false},"axis":{"orient":"right","title":"'revious_C","titleFontSize":10,"titleX":0,"titleAngle":90,"titleAlign":"center","titleBaseline":"middle","domain":true,"domainColor":"#D9D9D9","domainWidth":19,"offset":10.5,"values":[0,0.5,1,1.5,2,2.5,3,3.5,4],"gridWidth":{"condition":{"test":"datum.value % 1 === 0","value":1},"value":0.5}}}}},
  {"data":{"name":"cors"},"transform":[{"filter":"datum.row === 'Previous_C' && datum.col === 'Smoking'"}],"mark":{"type":"text"},"encoding":{"text":{"field":"r","type":"nominal"}}}]},

 {"width":64,"height":48.5,"data":{"name":"patients"},"mark":"point","encoding":{
   "x":{"field":"Age","type":"quantitative","scale":{"domain":[17.5,50.5],"nice":false,"zero":false},"axis":{"title":null,"values":[20,25,30,35,40,45],"labels":true,"ticks":true,"format":"d","labelExpr":"datum.value % 10 === 0 ? datum.label : ''","tickOpacity":{"condition":{"test":"datum.value % 10 === 0","value":1},"value":0},"gridWidth":{"condition":{"test":"datum.value % 10 === 0","value":1},"value":0.5}}},
   "y":{"field":"Smoking","type":"quantitative","scale":{"domain":[-0.05,1.05],"nice":false,"zero":false},"axis":{"title":null,"values":[0,0.125,0.25,0.375,0.5,0.625,0.75,0.875,1],"labels":true,"ticks":true,"format":".2f","labelExpr":"abs(datum.value*4-round(datum.value*4))<0.001 ? datum.label : ''","tickOpacity":{"condition":{"test":"abs(datum.value*4-round(datum.value*4))<0.001","value":1},"value":0},"gridWidth":{"condition":{"test":"abs(datum.value*4-round(datum.value*4))<0.001","value":1},"value":0.5}}}}},
 {"width":64,"height":48.5,"data":{"name":"patients"},"mark":"point","encoding":{
   "x":{"field":"Procedure_Anes","type":"quantitative","scale":{"domain":[0.95,2.05],"nice":false,"zero":false},"axis":{"title":null,"values":[1,1.125,1.25,1.375,1.5,1.625,1.75,1.875,2],"labels":true,"ticks":true,"format":".2f","labelExpr":"abs(datum.value*4-round(datum.value*4))<0.001 ? datum.label : ''","tickOpacity":{"condition":{"test":"abs(datum.value*4-round(datum.value*4))<0.001","value":1},"value":0},"gridWidth":{"condition":{"test":"abs(datum.value*4-round(datum.value*4))<0.001","value":1},"value":0.5}}},
   "y":{"field":"Smoking","type":"quantitative","scale":{"domain":[-0.05,1.05],"nice":false,"zero":false},"axis":{"title":null,"values":[0,0.125,0.25,0.375,0.5,0.625,0.75,0.875,1],"gridWidth":{"condition":{"test":"abs(datum.value*4-round(datum.value*4))<0.001","value":1},"value":0.5}}}}},
 {"width":64,"height":48.5,"data":{"name":"patients"},"mark":"point","encoding":{
   "x":{"field":"ASA","type":"quantitative","scale":{"domain":[0.95,2.05],"nice":false,"zero":false},"axis":{"title":null,"values":[1,1.125,1.25,1.375,1.5,1.625,1.75,1.875,2],"labels":true,"ticks":true,"format":".2f","labelExpr":"abs(datum.value*4-round(datum.value*4))<0.001 ? datum.label : ''","tickOpacity":{"condition":{"test":"abs(datum.value*4-round(datum.value*4))<0.001","value":1},"value":0},"gridWidth":{"condition":{"test":"abs(datum.value*4-round(datum.value*4))<0.001","value":1},"value":0.5}}},
   "y":{"field":"Smoking","type":"quantitative","scale":{"domain":[-0.05,1.05],"nice":false,"zero":false},"axis":{"title":null,"values":[0,0.125,0.25,0.375,0.5,0.625,0.75,0.875,1],"gridWidth":{"condition":{"test":"abs(datum.value*4-round(datum.value*4))<0.001","value":1},"value":0.5}}}}},
 {"width":64,"height":48.5,"data":{"name":"patients"},"mark":"point","encoding":{
   "x":{"field":"BMI","type":"quantitative","scale":{"domain":[19.85,42.35],"nice":false,"zero":false},"axis":{"title":null,"values":[20,22.5,25,27.5,30,32.5,35,37.5,40],"labels":true,"ticks":true,"format":"d","labelExpr":"datum.value % 5 === 0 ? datum.label : ''","tickOpacity":{"condition":{"test":"datum.value % 5 === 0","value":1},"value":0},"gridWidth":{"condition":{"test":"datum.value % 5 === 0","value":1},"value":0.5}}},
   "y":{"field":"Smoking","type":"quantitative","scale":{"domain":[-0.05,1.05],"nice":false,"zero":false},"axis":{"title":null,"values":[0,0.125,0.25,0.375,0.5,0.625,0.75,0.875,1],"gridWidth":{"condition":{"test":"abs(datum.value*4-round(datum.value*4))<0.001","value":1},"value":0.5}}}}},
 {"width":64,"height":48.5,"data":{"name":"patients"},"mark":"point","encoding":{
   "x":{"field":"Previous_C","type":"quantitative","scale":{"domain":[-0.2,4.2],"nice":false,"zero":false},"axis":{"title":null,"values":[0,0.5,1,1.5,2,2.5,3,3.5,4],"labels":true,"ticks":true,"format":"d","labelExpr":"datum.value % 1 === 0 ? datum.label : ''","tickOpacity":{"condition":{"test":"datum.value % 1 === 0","value":1},"value":0},"gridWidth":{"condition":{"test":"datum.value % 1 === 0","value":1},"value":0.5}}},
   "y":{"field":"Smoking","type":"quantitative","scale":{"domain":[-0.05,1.05],"nice":false,"zero":false},"axis":{"title":null,"values":[0,0.125,0.25,0.375,0.5,0.625,0.75,0.875,1],"gridWidth":{"condition":{"test":"abs(datum.value*4-round(datum.value*4))<0.001","value":1},"value":0.5}}}}},
 {"width":64,"height":48.5,"data":{"name":"dens"},"transform":[{"filter":"datum.var === 'Smoking'"}],"mark":{"type":"line","interpolate":"monotone"},"encoding":{
   "x":{"field":"x","type":"quantitative","scale":{"domain":[-0.05,1.05],"nice":false,"zero":false},"axis":{"title":null,"values":[0,0.125,0.25,0.375,0.5,0.625,0.75,0.875,1],"labels":true,"ticks":true,"format":".2f","labelExpr":"abs(datum.value*4-round(datum.value*4))<0.001 ? datum.label : ''","tickOpacity":{"condition":{"test":"abs(datum.value*4-round(datum.value*4))<0.001","value":1},"value":0},"gridWidth":{"condition":{"test":"abs(datum.value*4-round(datum.value*4))<0.001","value":1},"value":0.5}}},
   "y":{"field":"y","type":"quantitative","scale":{"domain":[0,1],"nice":false,"zero":false},"axis":{"orient":"right","title":"Smoking","titleFontSize":10,"titleX":0,"titleAngle":90,"titleAlign":"center","titleBaseline":"middle","domain":true,"domainColor":"#D9D9D9","domainWidth":19,"offset":10.5,"values":[0.1,0.2,0.3,0.4,0.5,0.6,0.7,0.8,0.9],"gridWidth":{"condition":{"test":"round(datum.value*10) % 2 === 0","value":1},"value":0.5}}}}}
]
}
